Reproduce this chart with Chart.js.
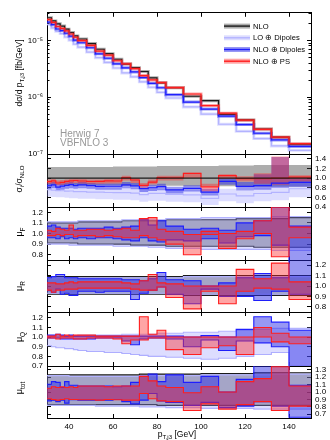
<!DOCTYPE html>
<html><head><meta charset="utf-8">
<script src="https://cdn.jsdelivr.net/npm/chart.js@4/dist/chart.umd.min.js"></script>
<style>
html,body{margin:0;padding:0;background:#fff;}
#wrap{position:relative;width:330px;height:440px;overflow:hidden;background:#fff;}
#wrap canvas{position:absolute;left:0;top:0;}
</style></head><body><div id="wrap"></div>
<script>
// ---------------- data ----------------
const EDGES = [30,32,34,36,38,40,42,44,48,52,56,60,64,68,72,76,80,84,92,100,108,116,124,132,140,150];
const X_TICKS = [40,60,80,100,120,140];
const SERIES = ['NLO','LO ⊕ Dipoles','NLO ⊕ Dipoles','NLO ⊕ PS'];

// main panel dσ/dpT [fb/GeV]
const NLO     = [2.51e-5,2.21e-5,1.96e-5,1.79e-5,1.58e-5,1.38e-5,1.20e-5,1.06e-5,8.8e-6,7.0e-6,5.85e-6,4.67e-6,3.83e-6,3.32e-6,2.84e-6,2.20e-6,1.79e-6,1.47e-6,1.04e-6,8.7e-7,4.99e-7,3.98e-7,2.75e-7,1.98e-7,1.49e-7];
const LO_DIP  = [1.91e-5,1.66e-5,1.45e-5,1.32e-5,1.15e-5,1.01e-5,8.64e-6,7.63e-6,6.25e-6,4.97e-6,4.10e-6,3.27e-6,2.68e-6,2.29e-6,1.87e-6,1.50e-6,1.22e-6,9.7e-7,6.76e-7,5.05e-7,3.34e-7,2.51e-7,1.87e-7,1.39e-7,1.16e-7];
const NLO_DIP = [2.11e-5,1.90e-5,1.59e-5,1.49e-5,1.34e-5,1.19e-5,1.01e-5,9.12e-6,7.44e-6,5.81e-6,4.86e-6,3.88e-6,3.29e-6,2.79e-6,2.22e-6,1.76e-6,1.47e-6,1.11e-6,8.2e-7,6.18e-7,4.64e-7,3.30e-7,2.32e-7,1.77e-7,1.36e-7];
const NLO_PS  = [2.33e-5,2.08e-5,1.76e-5,1.63e-5,1.47e-5,1.30e-5,1.14e-5,9.96e-6,8.18e-6,6.51e-6,5.50e-6,4.39e-6,3.87e-6,3.19e-6,2.41e-6,2.02e-6,1.81e-6,1.48e-6,1.14e-6,7.13e-7,5.24e-7,3.94e-7,2.72e-7,1.98e-7,1.52e-7];
const MAIN_MAJOR = [1e-7,1e-6,1e-5];
const MAIN_MINOR = [2e-7,3e-7,4e-7,5e-7,6e-7,7e-7,8e-7,9e-7,2e-6,3e-6,4e-6,5e-6,6e-6,7e-6,8e-6,9e-6,2e-5,3e-5];

// ratio panel σ_i/σ_NLO : uncertainty bands
const R1_NLO_HI = [1.23,1.23,1.23,1.23,1.23,1.23,1.23,1.23,1.23,1.23,1.23,1.24,1.24,1.24,1.24,1.24,1.25,1.25,1.25,1.25,1.26,1.26,1.27,1.27,1.27];
const R1_NLO_LO = [0.85,0.85,0.85,0.85,0.85,0.85,0.85,0.85,0.85,0.85,0.85,0.85,0.84,0.84,0.84,0.84,0.84,0.84,0.83,0.83,0.83,0.83,0.82,0.82,0.82];
const R1_LO_HI  = [0.86,0.85,0.84,0.84,0.83,0.83,0.82,0.82,0.81,0.81,0.80,0.80,0.80,0.79,0.76,0.78,0.78,0.76,0.75,0.68,0.78,0.74,0.80,0.82,0.90];
const R1_LO_LO  = [0.62,0.61,0.60,0.60,0.59,0.58,0.58,0.57,0.57,0.56,0.56,0.55,0.55,0.54,0.51,0.53,0.53,0.51,0.50,0.44,0.52,0.48,0.52,0.54,0.60];
const R1_DIP_HI = [0.90,0.92,0.87,0.89,0.91,0.92,0.90,0.92,0.90,0.89,0.89,0.89,0.92,0.90,0.84,0.86,0.88,0.82,0.85,0.78,0.99,0.92,1.08,1.44,0.99];
const R1_DIP_LO = [0.77,0.79,0.74,0.76,0.78,0.79,0.78,0.79,0.78,0.76,0.76,0.76,0.79,0.77,0.71,0.73,0.75,0.68,0.72,0.64,0.86,0.74,0.76,0.80,0.82];
const R1_PS_HI  = [0.97,0.98,0.95,0.96,0.97,0.98,0.99,0.98,0.97,0.97,0.98,0.98,1.05,1.00,0.90,0.97,1.05,1.05,1.11,0.88,1.08,1.04,1.10,1.45,1.06];
const R1_PS_LO  = [0.88,0.89,0.85,0.86,0.88,0.89,0.90,0.89,0.88,0.88,0.89,0.89,0.95,0.90,0.80,0.87,0.95,0.95,1.00,0.72,0.98,0.93,0.88,0.86,0.93];
const R1_TICKS  = [0.4,0.6,0.8,1.0,1.2,1.4];

// μF variation
const MUF_NLO_HI = [1.10,1.10,1.10,1.10,1.10,1.10,1.10,1.11,1.11,1.11,1.11,1.11,1.12,1.12,1.12,1.12,1.12,1.13,1.13,1.13,1.13,1.14,1.14,1.14,1.15];
const MUF_NLO_LO = [0.91,0.91,0.91,0.91,0.91,0.91,0.91,0.90,0.90,0.90,0.90,0.90,0.90,0.89,0.89,0.89,0.89,0.88,0.88,0.88,0.88,0.88,0.87,0.87,0.87];
const MUF_LO_HI  = [1.11,1.11,1.11,1.11,1.11,1.11,1.11,1.12,1.12,1.12,1.12,1.12,1.13,1.13,1.13,1.13,1.13,1.14,1.14,1.15,1.15,1.15,1.15,1.16,1.16];
const MUF_LO_LO  = [0.90,0.90,0.90,0.90,0.90,0.89,0.89,0.89,0.89,0.89,0.89,0.88,0.88,0.88,0.88,0.87,0.87,0.86,0.86,0.85,0.85,0.85,0.85,0.84,0.84];
const MUF_DIP_HI = [1.07,1.08,1.06,1.05,1.05,1.05,1.04,1.05,1.05,1.05,1.06,1.05,1.06,1.07,1.13,1.08,1.12,1.07,1.04,1.05,1.03,1.10,1.12,1.25,1.07];
const MUF_DIP_LO = [0.96,0.96,0.95,0.97,0.95,0.96,0.95,0.96,0.95,0.96,0.96,0.95,0.94,0.93,0.96,0.93,0.92,0.94,0.93,0.95,0.91,0.97,0.98,0.89,0.74];
const MUF_PS_HI  = [1.03,1.02,1.05,1.04,1.03,1.08,1.03,1.03,1.04,1.04,1.03,1.04,1.05,1.03,1.14,1.15,1.04,1.02,0.99,1.02,1.00,1.02,1.12,1.25,1.06];
const MUF_PS_LO  = [0.98,0.98,0.99,0.98,0.99,0.99,0.97,0.98,0.98,0.97,0.98,0.97,0.96,0.96,0.98,0.96,0.94,0.90,0.80,0.99,0.86,0.95,1.00,0.78,0.96];
const MUF_TICKS  = [0.8,0.9,1.0,1.1,1.2];

// μR variation
const MUR_NLO_HI = [1.09,1.09,1.09,1.09,1.09,1.09,1.09,1.09,1.09,1.09,1.09,1.09,1.09,1.09,1.09,1.09,1.09,1.09,1.10,1.10,1.10,1.10,1.10,1.10,1.10];
const MUR_NLO_LO = [0.92,0.92,0.92,0.92,0.92,0.92,0.92,0.92,0.92,0.92,0.92,0.92,0.92,0.92,0.92,0.92,0.92,0.92,0.91,0.91,0.91,0.91,0.91,0.91,0.91];
const MUR_LO_HI  = [1.08,1.08,1.08,1.08,1.08,1.08,1.08,1.08,1.08,1.08,1.08,1.08,1.08,1.08,1.08,1.08,1.08,1.08,1.09,1.09,1.09,1.09,1.09,1.09,1.09];
const MUR_LO_LO  = [0.93,0.93,0.93,0.93,0.93,0.93,0.93,0.93,0.93,0.93,0.93,0.93,0.93,0.93,0.93,0.93,0.93,0.93,0.92,0.92,0.92,0.92,0.92,0.92,0.92];
const MUR_DIP_HI = [1.08,1.09,1.11,1.11,1.08,1.08,1.08,1.07,1.07,1.07,1.07,1.07,1.06,1.06,1.05,1.07,1.13,1.06,1.05,1.00,1.03,1.08,1.12,1.08,1.26];
const MUR_DIP_LO = [0.955,0.94,0.97,0.92,0.93,0.91,0.91,0.95,0.95,0.94,0.95,0.95,0.95,0.87,0.93,0.96,0.99,0.92,0.83,0.97,0.90,0.90,0.86,0.95,0.92];
const MUR_PS_HI  = [1.03,1.03,1.02,1.02,1.03,1.04,1.03,1.04,1.04,1.04,1.04,1.04,1.03,1.02,1.05,1.11,1.03,1.02,1.00,1.00,1.00,1.16,1.07,1.22,1.04];
const MUR_PS_LO  = [0.96,0.94,0.96,0.96,0.97,0.97,0.97,0.98,0.98,0.98,0.98,0.98,0.98,0.97,0.96,0.96,0.99,0.89,0.78,0.95,0.83,0.95,0.98,0.97,0.87];
const MUR_TICKS  = [0.8,0.9,1.0,1.1,1.2];

// μQ variation (no NLO band)
const MUQ_LO_HI  = [1.01,1.01,1.01,1.01,1.01,1.01,1.01,1.02,1.02,1.02,1.02,1.02,1.03,1.03,1.03,1.03,1.04,1.04,1.05,1.05,1.06,1.07,1.08,1.09,1.09];
const MUQ_LO_LO  = [0.91,0.90,0.89,0.89,0.88,0.88,0.87,0.86,0.85,0.85,0.84,0.84,0.83,0.82,0.81,0.80,0.80,0.79,0.78,0.77,0.78,0.80,0.82,0.84,0.70];
const MUQ_DIP_HI = [1.02,1.02,1.03,1.02,1.01,1.02,1.01,1.01,1.01,1.01,1.01,1.01,1.01,1.01,1.01,1.01,1.01,1.01,1.00,1.015,1.00,1.08,1.21,1.155,1.07];
const MUQ_DIP_LO = [0.99,0.99,0.99,0.98,0.98,0.98,0.98,0.98,0.98,0.99,0.99,0.99,0.96,0.92,0.98,0.99,0.99,0.98,0.90,0.97,0.86,0.96,0.94,0.90,0.69];
const MUQ_PS_HI  = [1.01,1.01,1.03,1.01,1.02,1.01,1.02,1.02,1.02,1.01,1.01,1.01,1.01,1.01,1.21,1.03,1.07,1.00,1.00,1.00,1.00,1.00,1.10,1.04,1.00];
const MUQ_PS_LO  = [0.99,0.99,0.98,0.99,0.99,0.99,0.98,0.98,0.99,0.99,0.99,0.98,0.93,0.97,0.97,0.99,0.99,0.87,0.82,0.89,0.91,0.82,1.00,0.95,0.93];
const MUQ_TICKS  = [0.7,0.8,0.9,1.0,1.1,1.2];

// μtot variation
const MUT_NLO_HI = [1.23,1.23,1.23,1.23,1.23,1.23,1.23,1.23,1.23,1.23,1.23,1.23,1.23,1.23,1.24,1.24,1.24,1.24,1.24,1.25,1.25,1.25,1.26,1.26,1.26];
const MUT_NLO_LO = [0.83,0.83,0.83,0.83,0.83,0.83,0.83,0.83,0.83,0.83,0.83,0.83,0.83,0.83,0.83,0.83,0.82,0.82,0.82,0.82,0.82,0.82,0.82,0.82,0.82];
const MUT_LO_HI  = [1.22,1.22,1.22,1.22,1.22,1.21,1.21,1.21,1.21,1.21,1.21,1.21,1.21,1.21,1.22,1.22,1.22,1.22,1.22,1.23,1.23,1.23,1.23,1.24,1.24];
const MUT_LO_LO  = [0.82,0.82,0.82,0.82,0.82,0.82,0.82,0.82,0.82,0.81,0.81,0.81,0.81,0.81,0.80,0.80,0.80,0.79,0.79,0.78,0.78,0.78,0.77,0.77,0.77];
const MUT_DIP_HI = [1.105,1.14,1.13,1.06,1.14,1.09,1.09,1.08,1.08,1.08,1.08,1.07,1.08,1.13,1.21,1.24,1.14,1.23,1.13,1.21,1.00,1.17,1.36,1.36,1.09];
const MUT_DIP_LO = [0.88,0.89,0.87,0.89,0.85,0.895,0.895,0.89,0.89,0.89,0.89,0.90,0.87,0.84,0.89,0.98,0.88,0.86,0.82,0.86,0.79,0.81,0.87,0.81,0.66];
const MUT_PS_HI  = [1.05,1.07,1.06,1.07,1.06,1.07,1.06,1.08,1.08,1.08,1.07,1.08,1.08,1.08,1.21,1.15,1.08,1.06,0.99,1.07,1.00,1.14,1.18,1.34,1.08];
const MUT_PS_LO  = [0.91,0.90,0.89,0.90,0.91,0.90,0.90,0.895,0.895,0.89,0.90,0.895,0.89,0.89,0.98,0.91,0.88,0.87,0.75,0.84,0.77,0.83,0.87,0.75,0.81];
const MUT_TICKS  = [0.7,0.8,0.9,1.0,1.1,1.2,1.3];

// ---------------- styles ----------------
const FONT = '"Liberation Sans", Arial, Helvetica, sans-serif';
const COL = {
  nlo: {line:'#1a1a1a', band:'rgba(60,60,60,0.42)'},
  lo:  {line:'#b3b3ff', band:'rgba(150,150,255,0.32)'},
  dip: {line:'#1e1eff', band:'rgba(40,40,230,0.48)'},
  ps:  {line:'#ff1e1e', band:'rgba(255,40,40,0.42)'}
};
const SERIES_COL = [COL.nlo, COL.lo, COL.dip, COL.ps];

Chart.defaults.font.family = FONT;
Chart.defaults.font.size = 8;
Chart.defaults.color = '#000';

function steps(vals){
  const pts=[];
  vals.forEach((v,i)=>{ pts.push({x:EDGES[i],y:v}); pts.push({x:EDGES[i+1],y:v}); });
  return pts;
}
const ratio = a => a.map((v,i)=> v/NLO[i]);

function lineDS(vals,color,width,order){
  return {data:steps(vals),borderColor:color,borderWidth:width,fill:false,order,xAxisID:'x',yAxisID:'y'};
}
function bandDS(hi,lo,c,order,edges){
  const bc = edges ? c.line : 'rgba(0,0,0,0)';
  return [
    {data:steps(hi),fill:'+1',backgroundColor:c.band,borderColor:bc,borderWidth:1.1,order,xAxisID:'x',yAxisID:'y'},
    {data:steps(lo),fill:false,borderColor:bc,borderWidth:1.1,order,xAxisID:'x',yAxisID:'y'}
  ];
}

const SUP = {'-':'⁻','0':'⁰','1':'¹','2':'²','3':'³','4':'⁴','5':'⁵','6':'⁶','7':'⁷','8':'⁸','9':'⁹'};
const pow10 = v => '10' + String(Math.round(Math.log10(v))).split('').map(c=>SUP[c]).join('');
const fix1 = v => Number(v).toFixed(1);

function drawRich(ctx, segs, x, y, size, rotate, align){
  ctx.save();
  ctx.translate(x,y);
  if (rotate) ctx.rotate(-Math.PI/2);
  const fs = s => (s[1] ? size*0.72 : size);
  let total = 0;
  segs.forEach(s=>{ ctx.font = fs(s)+'px '+FONT; total += ctx.measureText(s[0]).width; });
  let cx = align==='left' ? 0 : -total/2;
  ctx.fillStyle = '#000';
  ctx.textBaseline = 'alphabetic';
  ctx.textAlign = 'left';
  segs.forEach(s=>{
    ctx.font = fs(s)+'px '+FONT;
    const dy = s[1]==='sub' ? size*0.28 : 0;
    ctx.fillText(s[0], cx, dy);
    cx += ctx.measureText(s[0]).width;
  });
  ctx.restore();
}

// ---------------- panels ----------------
const PANELS = [
  {top:9, bottom:154, type:'logarithmic', min:1e-7, max:3.07e-5, major:MAIN_MAJOR, minor:MAIN_MINOR, side:'left', fmt:pow10,
   title:[['dσ/d p'],['T,j3','sub'],[' [fb/GeV]']], titleY:73, titleSize:8.5, main:true,
   datasets:[
     lineDS(NLO_PS,COL.ps.band,3,41), lineDS(NLO_PS,COL.ps.line,1.2,40),
     lineDS(NLO_DIP,COL.dip.band,3,51), lineDS(NLO_DIP,COL.dip.line,1.2,50),
     lineDS(NLO,COL.nlo.band,3,61), lineDS(NLO,COL.nlo.line,1.2,60),
     lineDS(LO_DIP,COL.lo.band,3,71), lineDS(LO_DIP,COL.lo.line,1.2,70)
   ]},
  {top:154, bottom:207, min:0.4, max:1.5, major:R1_TICKS, side:'right', fmt:fix1,
   title:[['σ'],['i','sub'],['/σ'],['NLO','sub']], titleY:179, titleSize:8.5,
   datasets:[
     ...bandDS(R1_NLO_HI,R1_NLO_LO,COL.nlo,60,false),
     ...bandDS(R1_LO_HI,R1_LO_LO,COL.lo,50,false),
     ...bandDS(R1_DIP_HI,R1_DIP_LO,COL.dip,40,false),
     ...bandDS(R1_PS_HI,R1_PS_LO,COL.ps,30,false),
     lineDS(ratio(LO_DIP),COL.lo.line,1.2,8),
     lineDS(ratio(NLO_DIP),COL.dip.line,1.2,6),
     lineDS(ratio(NLO_PS),COL.ps.line,1.2,4),
     lineDS(ratio(NLO),COL.nlo.line,1.2,2)
   ]},
  {top:207, bottom:260, min:0.75, max:1.25, major:MUF_TICKS, side:'left', fmt:fix1,
   title:[['μ'],['F','sub']], titleY:232, titleSize:9,
   datasets:[
     ...bandDS(MUF_NLO_HI,MUF_NLO_LO,COL.nlo,60,true),
     ...bandDS(MUF_LO_HI,MUF_LO_LO,COL.lo,50,true),
     ...bandDS(MUF_DIP_HI,MUF_DIP_LO,COL.dip,40,true),
     ...bandDS(MUF_PS_HI,MUF_PS_LO,COL.ps,30,true)
   ]},
  {top:260, bottom:312, min:0.75, max:1.25, major:MUR_TICKS, side:'right', fmt:fix1,
   title:[['μ'],['R','sub']], titleY:286, titleSize:9,
   datasets:[
     ...bandDS(MUR_NLO_HI,MUR_NLO_LO,COL.nlo,60,true),
     ...bandDS(MUR_LO_HI,MUR_LO_LO,COL.lo,50,true),
     ...bandDS(MUR_DIP_HI,MUR_DIP_LO,COL.dip,40,true),
     ...bandDS(MUR_PS_HI,MUR_PS_LO,COL.ps,30,true)
   ]},
  {top:312, bottom:366, min:0.7, max:1.26, major:MUQ_TICKS, side:'left', fmt:fix1,
   title:[['μ'],['Q','sub']], titleY:337, titleSize:9,
   datasets:[
     ...bandDS(MUQ_LO_HI,MUQ_LO_LO,COL.lo,50,true),
     ...bandDS(MUQ_DIP_HI,MUQ_DIP_LO,COL.dip,40,true),
     ...bandDS(MUQ_PS_HI,MUQ_PS_LO,COL.ps,30,true)
   ]},
  {top:366, bottom:418, min:0.65, max:1.35, major:MUT_TICKS, side:'right', fmt:fix1,
   title:[['μ'],['tot','sub']], titleY:388, titleSize:9, last:true,
   datasets:[
     ...bandDS(MUT_NLO_HI,MUT_NLO_LO,COL.nlo,60,true),
     ...bandDS(MUT_LO_HI,MUT_LO_LO,COL.lo,50,true),
     ...bandDS(MUT_DIP_HI,MUT_DIP_LO,COL.dip,40,true),
     ...bandDS(MUT_PS_HI,MUT_PS_LO,COL.ps,30,true)
   ]}
];

const GRID = tl => ({display:true, drawOnChartArea:false, drawTicks:true, tickLength:tl, color:'#000', lineWidth:1});
const BORDER = {display:true, color:'#000', width:1};

function yAxis(p, pos, weight, ticksArr, labels, tl, width){
  return {
    type: p.type || 'linear', min:p.min, max:p.max, position:pos, weight,
    afterFit: s => { s.width = width; },
    afterBuildTicks: s => { s.ticks = ticksArr.map(v=>({value:v})); },
    ticks: {display:labels, autoSkip:false, padding:8, callback:p.fmt, font:{size:8}, color:'#000'},
    grid: GRID(tl), border: BORDER
  };
}
function xAxis(pos, labels, height){
  return {
    type:'linear', min:30, max:150, position:pos,
    afterFit: s => { s.height = height; },
    afterBuildTicks: s => { s.ticks = X_TICKS.map(v=>({value:v})); },
    ticks: {display:labels, autoSkip:false, maxRotation:0, padding:8, callback:v=>String(v), font:{size:8}, color:'#000'},
    grid: GRID(-4), border: BORDER
  };
}

const wrap = document.getElementById('wrap');
PANELS.forEach((p, idx) => {
  const cv = document.createElement('canvas');
  cv.width = 330; cv.height = 440;
  wrap.appendChild(cv);
  const xH = p.last ? 22 : 0;
  const scales = {
    x: xAxis('bottom', !!p.last, xH),
    xt: xAxis('top', false, 0),
    y: yAxis(p, 'left', 1, p.major, p.side==='left', -4, 47),
    yr: yAxis(p, 'right', 1, p.major, p.side==='right', -4, 19)
  };
  if (p.minor) {
    scales.ym = yAxis(p, 'left', 0, p.minor, false, -2.5, 0);
    scales.yrm = yAxis(p, 'right', 0, p.minor, false, -2.5, 0);
  }
  new Chart(cv, {
    type:'line',
    data:{datasets:p.datasets},
    options:{
      responsive:false, animation:false, devicePixelRatio:1,
      layout:{padding:{top:p.top, bottom:440 - p.bottom - xH, left:0, right:0}},
      elements:{point:{radius:0}, line:{tension:0, borderJoinStyle:'miter'}},
      plugins:{legend:{display:false}, tooltip:{enabled:false}, filler:{propagate:false}},
      scales
    },
    plugins:[{
      id:'decor'+idx,
      afterDraw(chart){
        const ctx = chart.ctx, ca = chart.chartArea;
        drawRich(ctx, p.title, 22, p.titleY, p.titleSize, true);
        if (p.main) {
          SERIES.forEach((name,i)=>{
            const c = SERIES_COL[i];
            const y = ca.top + 13.3 + i*11.7;
            ctx.save();
            ctx.fillStyle = c.band; ctx.fillRect(ca.right-87, y-2.5, 26, 5);
            ctx.strokeStyle = c.line; ctx.lineWidth = 1.4;
            ctx.beginPath(); ctx.moveTo(ca.right-87, y); ctx.lineTo(ca.right-61, y); ctx.stroke();
            ctx.fillStyle = '#000'; ctx.font = '7.6px '+FONT; ctx.textBaseline = 'middle'; ctx.textAlign='left';
            ctx.fillText(name, ca.right-58, y+0.5);
            ctx.restore();
          });
          ctx.save();
          ctx.fillStyle = '#999'; ctx.font = '10px '+FONT; ctx.textBaseline='alphabetic'; ctx.textAlign='left';
          ctx.fillText('Herwig 7', ca.left+13, ca.bottom-17.5);
          ctx.fillText('VBFNLO 3', ca.left+13, ca.bottom-8);
          ctx.restore();
        }
        if (p.last) {
          drawRich(ctx, [['p'],['T,j3','sub'],[' [GeV]']], (ca.left+ca.right)/2 - 2, 437, 8.5, false);
        }
      }
    }]
  });
});
</script></body></html>
